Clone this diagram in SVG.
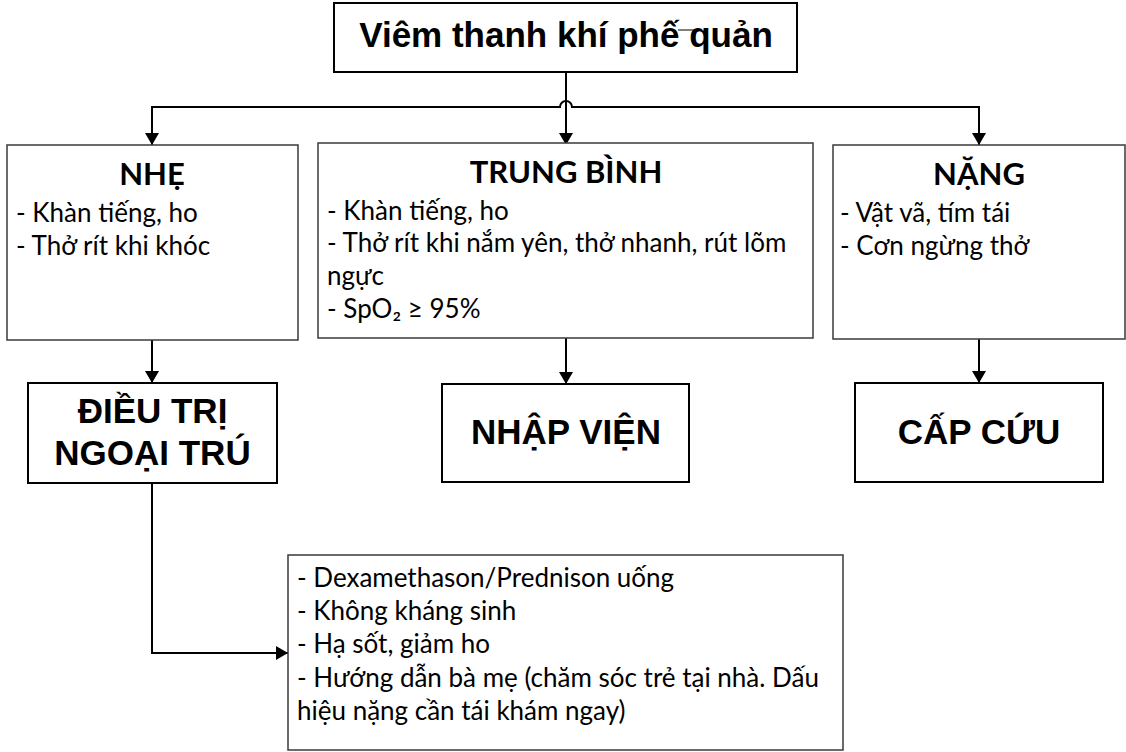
<svg xmlns="http://www.w3.org/2000/svg" width="1126" height="752" viewBox="0 0 1126 752">
<defs>
<marker id="arr" viewBox="0 0 12 14" refX="12" refY="7" markerWidth="12" markerHeight="14" markerUnits="userSpaceOnUse" orient="auto">
<path d="M0,0 L12,7 L0,14 Z" fill="#000"/>
</marker>
</defs>
<style>
.bx{fill:#fff;stroke:#000;stroke-width:2}
.cb{fill:#fff;stroke:#3a3a3a;stroke-width:1.5}
.h1{font-family:"Liberation Sans",Arial,sans-serif;font-weight:bold;font-size:35px;fill:#000;text-anchor:middle}
.h2{font-family:Lato,"Noto Sans",sans-serif;font-weight:bold;font-size:31px;fill:#000;text-anchor:middle}
.t{font-family:Lato,"Noto Sans",sans-serif;font-size:26px;fill:#000}
.c{fill:none;stroke:#000;stroke-width:2}
</style>
<rect width="1126" height="752" fill="#fff"/>
<g id="connectors">
<path class="c" d="M566,72 V145" marker-end="url(#arr)"/>
<path class="c" d="M152,107 H560 A6,6 0 0 1 572,107 H979"/>
<path class="c" d="M152,106 V145" marker-end="url(#arr)"/>
<path class="c" d="M979,106 V145" marker-end="url(#arr)"/>
<path class="c" d="M152,340 V383" marker-end="url(#arr)"/>
<path class="c" d="M566,338 V384" marker-end="url(#arr)"/>
<path class="c" d="M979,339 V383" marker-end="url(#arr)"/>
<path class="c" d="M152,483 V653 H288" marker-end="url(#arr)"/>
</g>
<g id="root">
<rect class="bx" x="334" y="3" width="463" height="69"/>
<text class="h1" x="566" y="47">Viêm thanh khí phế quản</text>
<line x1="678" y1="30" x2="695" y2="30" stroke="#000" stroke-width="1"/>
</g>
<g id="nhe">
<rect class="cb" x="7" y="145" width="291" height="195"/>
<text class="h2" x="152" y="185">NHẸ</text>
<text class="t" x="16" y="222">- Khàn tiếng, ho</text>
<text class="t" x="16" y="255">- Thở rít khi khóc</text>
</g>
<g id="trungbinh">
<rect class="cb" x="318" y="143" width="495" height="195"/>
<text class="h2" x="566" y="183">TRUNG BÌNH</text>
<text class="t" x="327" y="220">- Khàn tiếng, ho</text>
<text class="t" x="327" y="252">- Thở rít khi nắm yên, thở nhanh, rút lõm</text>
<text class="t" x="327" y="285">ngực</text>
<text class="t" x="327" y="318">- SpO₂ ≥ 95%</text>
</g>
<g id="nang">
<rect class="cb" x="833" y="145" width="292" height="194"/>
<text class="h2" x="979" y="185">NẶNG</text>
<text class="t" x="840" y="222">- Vật vã, tím tái</text>
<text class="t" x="840" y="255">- Cơn ngừng thở</text>
</g>
<g id="ngoaitru">
<rect class="bx" x="28" y="383" width="249" height="100"/>
<text class="h1" x="152.5" y="423">ĐIỀU TRỊ</text>
<text class="h1" x="152.5" y="465">NGOẠI TRÚ</text>
</g>
<g id="nhapvien">
<rect class="bx" x="442" y="384" width="247" height="98"/>
<text class="h1" x="566" y="444">NHẬP VIỆN</text>
</g>
<g id="capcuu">
<rect class="bx" x="855" y="383" width="248" height="99"/>
<text class="h1" x="979" y="444">CẤP CỨU</text>
</g>
<g id="treatment">
<rect class="cb" x="288" y="555" width="555" height="195"/>
<text class="t" x="297" y="587">- Dexamethason/Prednison uống</text>
<text class="t" x="297" y="620">- Không kháng sinh</text>
<text class="t" x="297" y="653">- Hạ sốt, giảm ho</text>
<text class="t" x="297" y="687">- Hướng dẫn bà mẹ (chăm sóc trẻ tại nhà. Dấu</text>
<text class="t" x="297" y="720">hiệu nặng cần tái khám ngay)</text>
</g>
</svg>
